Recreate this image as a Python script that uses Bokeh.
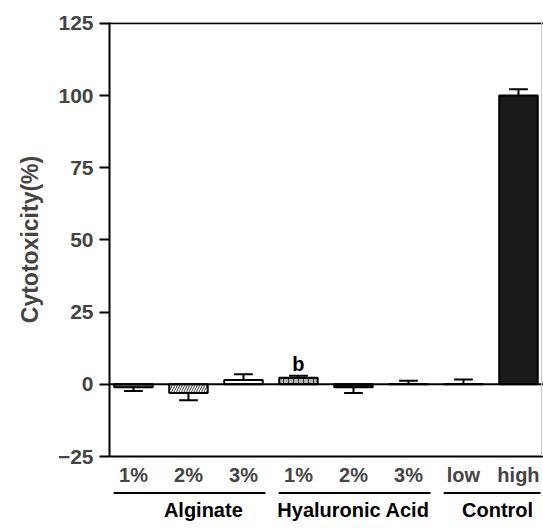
from bokeh.plotting import figure
from bokeh.layouts import column
from bokeh.models import Range1d, Span, FixedTicker, ColumnDataSource
from bokeh.core.properties import value
from bokeh.embed import file_html
from bokeh.resources import INLINE

# ---- data ----
categories = ["1%", "2%", "3%", "1%", "2%", "3%", "low", "high"]
groups = ["Alginate", "Hyaluronic Acid", "Control"]
group_members = [[0, 1, 2], [3, 4, 5], [6, 7]]
values = [-1.0, -3.0, 1.5, 2.3, -1.0, 0.1, 0.1, 100.0]
errors = [1.3, 2.5, 2.0, 0.7, 2.0, 1.1, 1.6, 2.2]
marks = ["", "", "", "b", "", "", "", ""]
y_ticks = [-25, 0, 25, 50, 75, 100, 125]

# ---- styles ----
fills = ["#7a7a7a", "white", "white", "#b5b5b5", "#1a1a1a", "white", "white", "#1a1a1a"]
hatches = ["-", "/", " ", "+", " ", " ", " ", " "]
group_label_shift = [0.27, 0.0, 0.12]
FONT = "Liberation Sans"

x = list(range(len(categories)))
src = ColumnDataSource(dict(x=x, top=values, fill=fills, hatch=hatches))

xr = Range1d(-0.436, 7.455)

p = figure(width=543, height=490, output_backend="svg", toolbar_location=None,
           x_range=xr, y_range=Range1d(-25, 125.3),
           min_border_left=109, min_border_top=22, min_border_bottom=34, min_border_right=0)

p.xgrid.visible = False
p.ygrid.visible = False
p.outline_line_color = None
p.background_fill_color = "white"

p.vbar(x="x", top="top", bottom=0, width=0.7, source=src, fill_color="fill",
       hatch_pattern="hatch", hatch_color="#333333", hatch_scale=5, hatch_weight=1,
       line_color="black", line_width=2)

# error bars (one-sided, away from zero)
ends = [v + (e if v >= 0 else -e) for v, e in zip(values, errors)]
p.segment(x0=x, y0=values, x1=x, y1=ends, line_color="black", line_width=2)
p.segment(x0=[i - 0.17 for i in x], y0=ends, x1=[i + 0.17 for i in x], y1=ends,
          line_color="black", line_width=2)

p.add_layout(Span(location=0, dimension="width", line_color="black", line_width=2))
p.add_layout(Span(location=125, dimension="width", line_color="black", line_width=2))
p.add_layout(Span(location=7.42, dimension="height", line_color="#c8c8c8", line_width=1))

# significance marks
mx = [i for i, m in enumerate(marks) if m]
my = [ends[i] + 4.2 for i in mx]
p.text(x=mx, y=my, text=[marks[i] for i in mx], text_align="center", text_baseline="alphabetic",
       text_font=value(FONT), text_font_style="bold", text_font_size="20px", text_color="black")

# axes
p.yaxis.ticker = FixedTicker(ticks=y_ticks)
p.yaxis.minor_tick_line_color = None
p.yaxis.major_tick_out = 10
p.yaxis.major_tick_in = 0
p.yaxis.major_tick_line_width = 2
p.yaxis.axis_line_width = 2
p.yaxis.major_label_standoff = 6
p.yaxis.major_label_text_font = FONT
p.yaxis.major_label_text_font_style = "bold"
p.yaxis.major_label_text_font_size = "21px"
p.yaxis.axis_label = "Cytotoxicity(%)"
p.yaxis.axis_label_text_font = FONT
p.yaxis.axis_label_text_font_style = "bold"
p.yaxis.axis_label_text_font_size = "23px"
p.yaxis.axis_label_standoff = 12

p.xaxis.ticker = FixedTicker(ticks=x)
p.xaxis.major_label_overrides = {i: c for i, c in enumerate(categories)}
p.xaxis.minor_tick_line_color = None
p.xaxis.major_tick_line_color = None
p.xaxis.major_tick_out = 0
p.xaxis.major_tick_in = 0
p.xaxis.axis_line_width = 2
p.xaxis.major_label_standoff = 7
p.xaxis.major_label_text_font = FONT
p.xaxis.major_label_text_font_style = "bold"
p.xaxis.major_label_text_font_size = "20px"

# ---- group strip below ----
p2 = figure(width=543, height=40, output_backend="svg", toolbar_location=None,
            x_range=xr, y_range=Range1d(40, 0), x_axis_location=None, y_axis_location=None,
            min_border_left=109, min_border_top=0, min_border_bottom=0, min_border_right=0)
p2.xgrid.visible = False
p2.ygrid.visible = False
p2.outline_line_color = None

starts = [m[0] - 0.36 for m in group_members]
stops = [m[-1] + 0.4 for m in group_members]
p2.segment(x0=starts, y0=[2.5] * len(groups), x1=stops, y1=[2.5] * len(groups),
           line_color="black", line_width=2)
centers = [sum(m) / len(m) + s for m, s in zip(group_members, group_label_shift)]
p2.text(x=centers, y=[19] * len(groups), text=groups, text_align="center",
        text_baseline="middle", text_font=value(FONT), text_font_style="bold",
        text_font_size="20px", text_color="black")

layout = column(p, p2, spacing=0)
open("out.html", "w").write(file_html(layout, INLINE))
